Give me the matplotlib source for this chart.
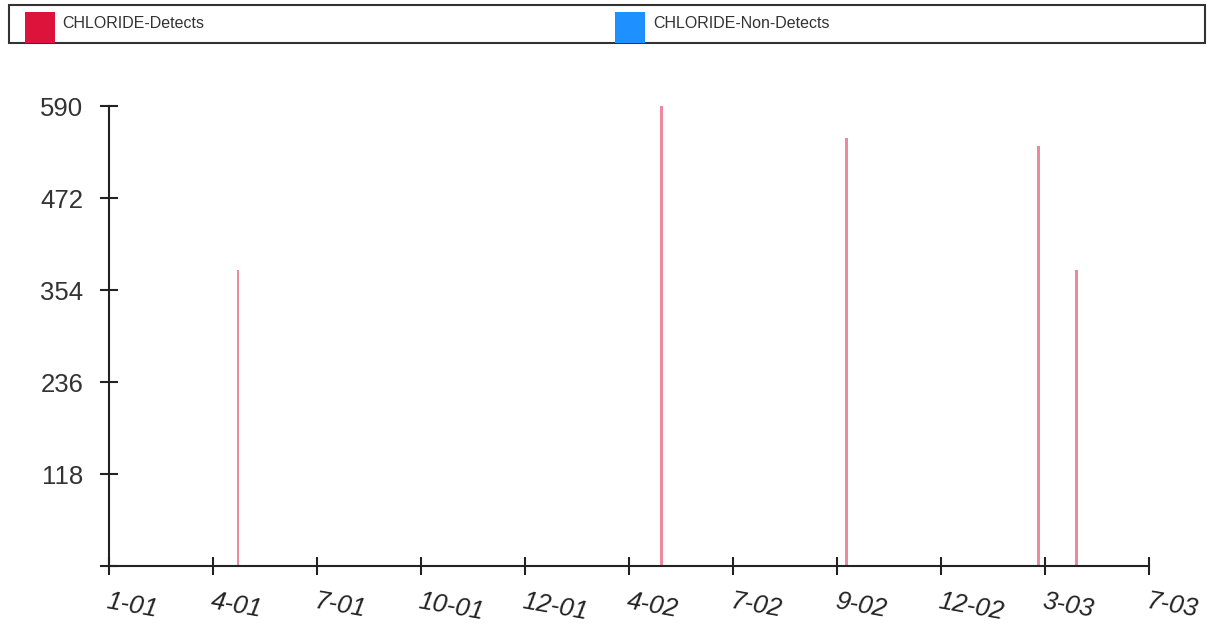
import matplotlib
matplotlib.use("Agg")
import matplotlib.pyplot as plt
from matplotlib.patches import Rectangle

# ---- data ----
tick_labels = ["1-01", "4-01", "7-01", "10-01", "12-01", "4-02", "7-02", "9-02", "12-02", "3-03", "7-03"]
sample_pos = [1.24, 5.31, 7.09, 8.94, 9.30]   # positions on the tick-index scale
detect_values = [380, 590, 549, 539, 380]
y_ticks = [0, 118, 236, 354, 472, 590]
y_tick_labels = ["", "118", "236", "354", "472", "590"]
legend_labels = ["CHLORIDE-Detects", "CHLORIDE-Non-Detects"]
legend_colors = ["#DC143C", "#1E90FF"]

W, H = 1215, 631
fig = plt.figure(figsize=(W / 100, H / 100), dpi=100)
plt.rcParams['font.family'] = ['Liberation Sans', 'DejaVu Sans']

ax = fig.add_axes([109 / W, (H - 566) / H, (1149 - 109) / W, (566 - 106) / H])
ax.set_xlim(0, len(tick_labels) - 1)
ax.set_ylim(0, 590)

ax.bar(sample_pos, detect_values, width=0.028, color="#DC143C", alpha=0.5, linewidth=0)

for s in ["top", "right"]:
    ax.spines[s].set_visible(False)
for s in ["left", "bottom"]:
    ax.spines[s].set_linewidth(1.5)
    ax.spines[s].set_color("#222222")

ax.set_yticks(y_ticks)
ax.set_yticklabels(y_tick_labels, fontsize=18.5, color="#333333")
ax.set_xticks(range(len(tick_labels)))
ax.set_xticklabels([])
ax.tick_params(axis="both", direction="inout", length=13, width=1.5, color="#222222")
ax.tick_params(axis="y", pad=12)

for i, lab in enumerate(tick_labels):
    ax.annotate(lab, xy=(i, 0), xycoords=("data", "axes fraction"),
                xytext=(0, -17), textcoords="offset points",
                ha="left", va="top", fontsize=18.5, style="italic", rotation=-10,
                rotation_mode="anchor", color="#222222")

# legend box
fig.patches.append(Rectangle((9 / W, 1 - 43 / H), 1196 / W, 38 / H, transform=fig.transFigure,
                             fill=False, edgecolor="#333333", linewidth=1.5))
for x0, tx, lab, col in zip([25, 615], [62, 653], legend_labels, legend_colors):
    fig.patches.append(Rectangle((x0 / W, 1 - 43 / H), 30 / W, 31 / H, transform=fig.transFigure,
                                 facecolor=col, edgecolor="none"))
    fig.text(tx / W, 1 - 24 / H, lab, fontsize=11.5, va="center", ha="left", color="#333333")

fig.savefig("out.png", dpi=100)
